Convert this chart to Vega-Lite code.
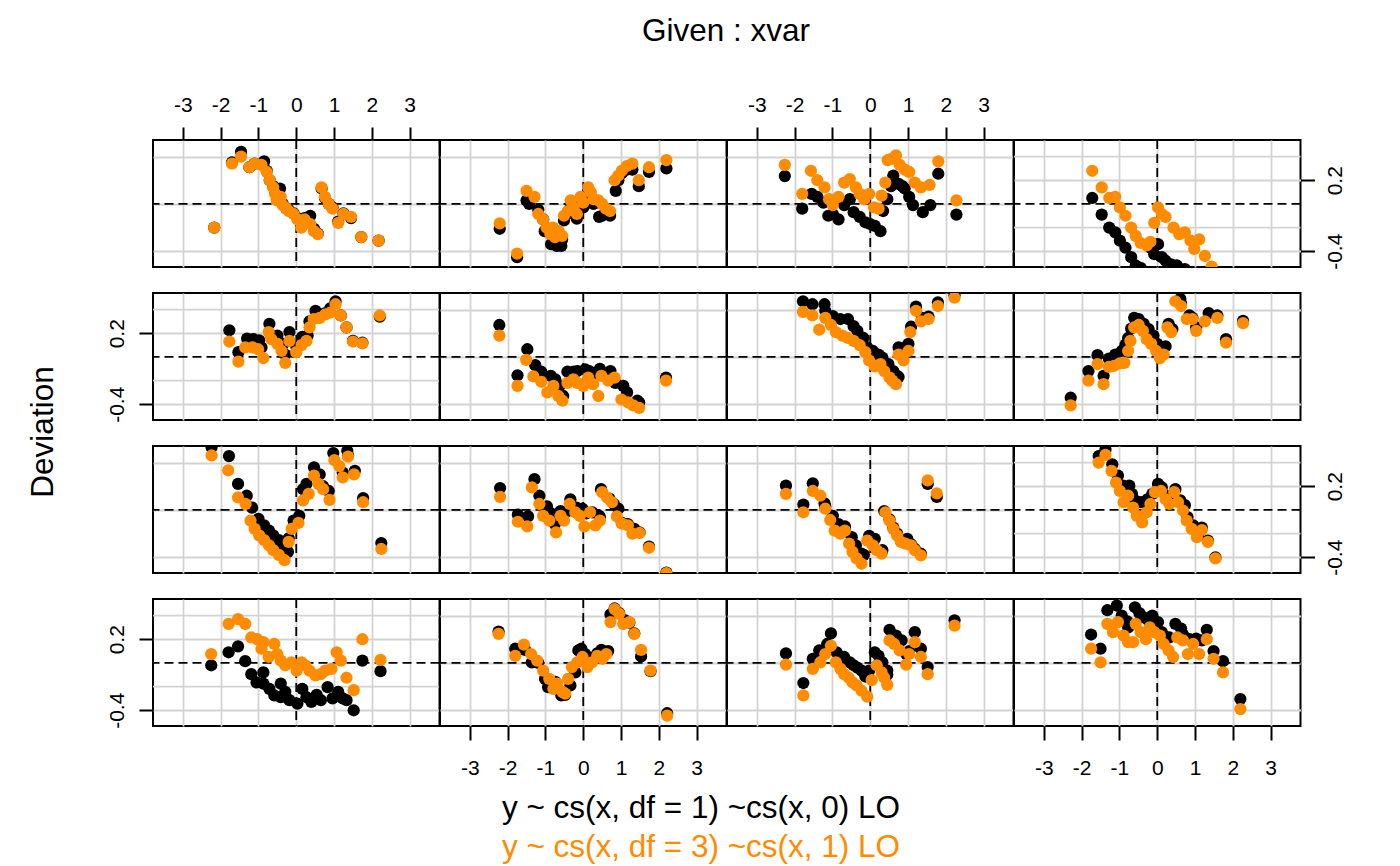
{
"$schema": "https://vega.github.io/schema/vega-lite/v6.json",
"padding": {"left": 27, "top": 15, "right": 5, "bottom": 5},
"datasets": {
"o11": [{"x":-2.17,"y":-0.2},{"x":-1.7,"y":0.34},{"x":-1.46,"y":0.4},{"x":-1.24,"y":0.31},{"x":-1.1,"y":0.34},{"x":-0.92,"y":0.33},{"x":-0.78,"y":0.27},{"x":-0.7,"y":0.2},{"x":-0.61,"y":0.14},{"x":-0.56,"y":0.085},{"x":-0.51,"y":0.03},{"x":-0.41,"y":0.06},{"x":-0.36,"y":-0.01},{"x":-0.26,"y":-0.04},{"x":-0.2,"y":-0.06},{"x":-0.07,"y":-0.085},{"x":0.03,"y":-0.13},{"x":0.13,"y":-0.2},{"x":0.22,"y":-0.13},{"x":0.37,"y":-0.17},{"x":0.47,"y":-0.23},{"x":0.57,"y":-0.255},{"x":0.67,"y":0.14},{"x":0.76,"y":0.06},{"x":0.86,"y":0.0},{"x":0.96,"y":-0.04},{"x":1.11,"y":-0.16},{"x":1.25,"y":-0.085},{"x":1.45,"y":-0.11},{"x":1.72,"y":-0.28},{"x":2.18,"y":-0.31}],
"b11": [{"x":-2.17,"y":-0.2},{"x":-1.7,"y":0.35},{"x":-1.46,"y":0.44},{"x":-1.24,"y":0.31},{"x":-1.1,"y":0.34},{"x":-0.85,"y":0.36},{"x":-0.78,"y":0.28},{"x":-0.7,"y":0.2},{"x":-0.61,"y":0.15},{"x":-0.56,"y":0.1},{"x":-0.51,"y":0.04},{"x":-0.43,"y":0.13},{"x":-0.36,"y":0.0},{"x":-0.26,"y":-0.04},{"x":-0.2,"y":-0.05},{"x":-0.07,"y":-0.08},{"x":0.03,"y":-0.12},{"x":0.13,"y":-0.19},{"x":0.22,"y":-0.12},{"x":0.37,"y":-0.1},{"x":0.47,"y":-0.21},{"x":0.57,"y":-0.25},{"x":0.67,"y":0.13},{"x":0.76,"y":0.05},{"x":0.86,"y":0.0},{"x":0.96,"y":-0.03},{"x":1.11,"y":-0.15},{"x":1.25,"y":-0.08},{"x":1.45,"y":-0.12},{"x":1.72,"y":-0.28},{"x":2.18,"y":-0.31}],
"o12": [{"x":-2.21,"y":-0.165},{"x":-1.75,"y":-0.42},{"x":-1.5,"y":0.11},{"x":-1.29,"y":0.06},{"x":-1.19,"y":-0.085},{"x":-1.06,"y":-0.13},{"x":-0.97,"y":-0.2},{"x":-0.87,"y":-0.255},{"x":-0.8,"y":-0.2},{"x":-0.75,"y":-0.28},{"x":-0.65,"y":-0.23},{"x":-0.56,"y":-0.27},{"x":-0.51,"y":-0.1},{"x":-0.41,"y":-0.06},{"x":-0.33,"y":0.03},{"x":-0.26,"y":-0.03},{"x":-0.17,"y":-0.085},{"x":-0.07,"y":0.06},{"x":0.0,"y":0.01},{"x":0.13,"y":0.14},{"x":0.2,"y":0.1},{"x":0.27,"y":0.04},{"x":0.4,"y":0.03},{"x":0.5,"y":0.0},{"x":0.6,"y":-0.04},{"x":0.71,"y":-0.06},{"x":0.83,"y":0.2},{"x":0.93,"y":0.24},{"x":1.02,"y":0.28},{"x":1.15,"y":0.32},{"x":1.3,"y":0.34},{"x":1.47,"y":0.2},{"x":1.74,"y":0.31},{"x":2.2,"y":0.37}],
"b12": [{"x":-2.21,"y":-0.21},{"x":-1.75,"y":-0.45},{"x":-1.5,"y":0.03},{"x":-1.43,"y":0.0},{"x":-1.19,"y":-0.05},{"x":-1.06,"y":-0.13},{"x":-1.02,"y":-0.23},{"x":-0.85,"y":-0.34},{"x":-0.8,"y":-0.22},{"x":-0.7,"y":-0.355},{"x":-0.58,"y":-0.355},{"x":-0.56,"y":-0.3},{"x":-0.51,"y":-0.14},{"x":-0.41,"y":-0.08},{"x":-0.33,"y":0.0},{"x":-0.26,"y":-0.08},{"x":-0.17,"y":-0.125},{"x":-0.07,"y":0.03},{"x":0.0,"y":-0.03},{"x":0.13,"y":0.12},{"x":0.2,"y":0.06},{"x":0.27,"y":0.0},{"x":0.42,"y":-0.11},{"x":0.5,"y":-0.1},{"x":0.6,"y":-0.08},{"x":0.71,"y":-0.1},{"x":0.86,"y":0.11},{"x":0.93,"y":0.2},{"x":1.02,"y":0.26},{"x":1.15,"y":0.29},{"x":1.3,"y":0.29},{"x":1.47,"y":0.15},{"x":1.74,"y":0.27},{"x":2.2,"y":0.3}],
"o13": [{"x":-2.26,"y":0.33},{"x":-1.8,"y":0.085},{"x":-1.57,"y":0.28},{"x":-1.4,"y":0.2},{"x":-1.21,"y":0.14},{"x":-1.09,"y":0.04},{"x":-0.99,"y":-0.01},{"x":-0.84,"y":0.06},{"x":-0.69,"y":0.18},{"x":-0.54,"y":0.21},{"x":-0.38,"y":0.14},{"x":-0.28,"y":0.085},{"x":-0.16,"y":0.04},{"x":-0.03,"y":0.085},{"x":0.1,"y":-0.03},{"x":0.22,"y":-0.04},{"x":0.3,"y":0.07},{"x":0.4,"y":0.18},{"x":0.46,"y":0.37},{"x":0.56,"y":0.38},{"x":0.68,"y":0.41},{"x":0.78,"y":0.33},{"x":0.91,"y":0.29},{"x":1.03,"y":0.27},{"x":1.18,"y":0.18},{"x":1.34,"y":0.14},{"x":1.57,"y":0.16},{"x":1.8,"y":0.36},{"x":2.28,"y":0.03}],
"b13": [{"x":-2.26,"y":0.235},{"x":-1.8,"y":-0.04},{"x":-1.55,"y":0.085},{"x":-1.4,"y":0.06},{"x":-1.24,"y":0.01},{"x":-1.11,"y":-0.1},{"x":-0.99,"y":-0.085},{"x":-0.84,"y":-0.13},{"x":-0.69,"y":-0.01},{"x":-0.54,"y":0.04},{"x":-0.44,"y":-0.07},{"x":-0.28,"y":-0.11},{"x":-0.13,"y":-0.155},{"x":0.0,"y":-0.17},{"x":0.12,"y":-0.185},{"x":0.27,"y":-0.23},{"x":0.34,"y":-0.06},{"x":0.45,"y":0.04},{"x":0.55,"y":0.15},{"x":0.61,"y":0.24},{"x":0.75,"y":0.17},{"x":0.85,"y":0.15},{"x":0.91,"y":0.13},{"x":1.03,"y":0.06},{"x":1.13,"y":-0.01},{"x":1.39,"y":-0.07},{"x":1.59,"y":-0.01},{"x":1.8,"y":0.255},{"x":2.28,"y":-0.09}],
"o14": [{"x":-1.72,"y":0.28},{"x":-1.47,"y":0.14},{"x":-1.27,"y":0.05},{"x":-1.11,"y":0.06},{"x":-0.99,"y":-0.03},{"x":-0.84,"y":-0.1},{"x":-0.69,"y":-0.2},{"x":-0.57,"y":-0.27},{"x":-0.44,"y":-0.33},{"x":-0.28,"y":-0.35},{"x":-0.18,"y":-0.32},{"x":-0.08,"y":-0.16},{"x":0.02,"y":-0.03},{"x":0.12,"y":-0.085},{"x":0.22,"y":-0.11},{"x":0.43,"y":-0.2},{"x":0.58,"y":-0.255},{"x":0.73,"y":-0.24},{"x":0.88,"y":-0.31},{"x":0.98,"y":-0.38},{"x":1.11,"y":-0.3},{"x":1.26,"y":-0.44},{"x":1.44,"y":-0.53}],
"b14": [{"x":-1.72,"y":0.05},{"x":-1.47,"y":-0.09},{"x":-1.27,"y":-0.2},{"x":-1.11,"y":-0.24},{"x":-0.99,"y":-0.31},{"x":-0.84,"y":-0.37},{"x":-0.69,"y":-0.45},{"x":-0.57,"y":-0.52},{"x":-0.44,"y":-0.54},{"x":-0.28,"y":-0.58},{"x":-0.18,"y":-0.37},{"x":-0.08,"y":-0.425},{"x":0.02,"y":-0.34},{"x":0.12,"y":-0.45},{"x":0.22,"y":-0.48},{"x":0.37,"y":-0.51},{"x":0.52,"y":-0.52},{"x":0.73,"y":-0.55},{"x":0.88,"y":-0.6},{"x":0.98,"y":-0.62},{"x":1.11,"y":-0.6},{"x":1.26,"y":-0.7},{"x":1.44,"y":-0.8}],
"o21": [{"x":-1.77,"y":0.13},{"x":-1.53,"y":-0.04},{"x":-1.35,"y":0.08},{"x":-1.16,"y":0.08},{"x":-1.01,"y":0.065},{"x":-0.87,"y":-0.01},{"x":-0.73,"y":0.21},{"x":-0.66,"y":0.15},{"x":-0.5,"y":0.11},{"x":-0.39,"y":0.05},{"x":-0.29,"y":-0.05},{"x":-0.18,"y":0.135},{"x":0.0,"y":0.04},{"x":0.14,"y":0.1},{"x":0.27,"y":0.135},{"x":0.35,"y":0.25},{"x":0.46,"y":0.32},{"x":0.62,"y":0.33},{"x":0.77,"y":0.36},{"x":0.9,"y":0.375},{"x":1.04,"y":0.445},{"x":1.18,"y":0.35},{"x":1.33,"y":0.25},{"x":1.5,"y":0.13},{"x":1.75,"y":0.115},{"x":2.21,"y":0.35}],
"b21": [{"x":-1.77,"y":0.225},{"x":-1.53,"y":0.04},{"x":-1.3,"y":0.155},{"x":-1.14,"y":0.15},{"x":-0.98,"y":0.14},{"x":-0.92,"y":0.08},{"x":-0.71,"y":0.28},{"x":-0.66,"y":0.18},{"x":-0.5,"y":0.18},{"x":-0.34,"y":0.11},{"x":-0.29,"y":0.02},{"x":-0.18,"y":0.21},{"x":0.0,"y":0.09},{"x":0.16,"y":0.17},{"x":0.3,"y":0.18},{"x":0.35,"y":0.3},{"x":0.51,"y":0.39},{"x":0.62,"y":0.36},{"x":0.77,"y":0.37},{"x":0.9,"y":0.41},{"x":1.04,"y":0.47},{"x":1.18,"y":0.35},{"x":1.33,"y":0.25},{"x":1.5,"y":0.135},{"x":1.75,"y":0.12},{"x":2.21,"y":0.34}],
"o22": [{"x":-2.22,"y":0.18},{"x":-1.74,"y":-0.245},{"x":-1.51,"y":-0.025},{"x":-1.32,"y":-0.165},{"x":-1.11,"y":-0.21},{"x":-0.95,"y":-0.3},{"x":-0.79,"y":-0.245},{"x":-0.66,"y":-0.33},{"x":-0.55,"y":-0.37},{"x":-0.42,"y":-0.22},{"x":-0.26,"y":-0.19},{"x":-0.16,"y":-0.22},{"x":0.0,"y":-0.245},{"x":0.13,"y":-0.175},{"x":0.26,"y":-0.23},{"x":0.4,"y":-0.33},{"x":0.48,"y":-0.16},{"x":0.66,"y":-0.2},{"x":0.83,"y":-0.175},{"x":1.01,"y":-0.36},{"x":1.19,"y":-0.385},{"x":1.32,"y":-0.41},{"x":1.48,"y":-0.43},{"x":2.19,"y":-0.2}],
"b22": [{"x":-2.22,"y":0.27},{"x":-1.74,"y":-0.155},{"x":-1.48,"y":0.065},{"x":-1.27,"y":-0.07},{"x":-1.11,"y":-0.125},{"x":-0.86,"y":-0.16},{"x":-0.74,"y":-0.19},{"x":-0.63,"y":-0.245},{"x":-0.53,"y":-0.33},{"x":-0.42,"y":-0.125},{"x":-0.26,"y":-0.125},{"x":-0.16,"y":-0.12},{"x":0.05,"y":-0.105},{"x":0.16,"y":-0.12},{"x":0.26,"y":-0.145},{"x":0.44,"y":-0.1},{"x":0.53,"y":-0.145},{"x":0.72,"y":-0.12},{"x":0.85,"y":-0.22},{"x":1.06,"y":-0.245},{"x":1.16,"y":-0.3},{"x":1.43,"y":-0.37},{"x":1.48,"y":-0.385},{"x":2.19,"y":-0.175}],
"o23": [{"x":-1.78,"y":0.38},{"x":-1.53,"y":0.35},{"x":-1.35,"y":0.23},{"x":-1.19,"y":0.33},{"x":-1.04,"y":0.27},{"x":-0.91,"y":0.21},{"x":-0.74,"y":0.18},{"x":-0.59,"y":0.16},{"x":-0.44,"y":0.135},{"x":-0.28,"y":0.1},{"x":-0.13,"y":0.04},{"x":-0.03,"y":-0.03},{"x":0.12,"y":-0.08},{"x":0.27,"y":-0.06},{"x":0.37,"y":-0.12},{"x":0.51,"y":-0.175},{"x":0.58,"y":-0.2},{"x":0.68,"y":-0.23},{"x":0.75,"y":0.02},{"x":0.88,"y":-0.03},{"x":1.01,"y":0.05},{"x":1.06,"y":0.21},{"x":1.21,"y":0.39},{"x":1.34,"y":0.3},{"x":1.54,"y":0.32},{"x":1.79,"y":0.43},{"x":2.23,"y":0.5}],
"b23": [{"x":-1.78,"y":0.47},{"x":-1.53,"y":0.445},{"x":-1.21,"y":0.445},{"x":-1.19,"y":0.39},{"x":-0.99,"y":0.345},{"x":-0.79,"y":0.32},{"x":-0.59,"y":0.32},{"x":-0.44,"y":0.26},{"x":-0.34,"y":0.22},{"x":-0.18,"y":0.16},{"x":-0.08,"y":0.08},{"x":0.07,"y":0.05},{"x":0.22,"y":0.02},{"x":0.32,"y":-0.005},{"x":0.48,"y":-0.06},{"x":0.61,"y":-0.12},{"x":0.71,"y":-0.16},{"x":0.75,"y":-0.17},{"x":0.75,"y":0.08},{"x":0.93,"y":0.08},{"x":1.01,"y":0.11},{"x":1.08,"y":0.255},{"x":1.21,"y":0.425},{"x":1.37,"y":0.33},{"x":1.54,"y":0.34},{"x":1.79,"y":0.46},{"x":2.23,"y":0.52}],
"o24": [{"x":-2.29,"y":-0.41},{"x":-1.82,"y":-0.2},{"x":-1.58,"y":-0.06},{"x":-1.42,"y":-0.23},{"x":-1.28,"y":-0.085},{"x":-1.14,"y":-0.075},{"x":-0.99,"y":-0.055},{"x":-0.87,"y":-0.05},{"x":-0.77,"y":0.05},{"x":-0.71,"y":0.135},{"x":-0.61,"y":0.25},{"x":-0.49,"y":0.27},{"x":-0.38,"y":0.22},{"x":-0.28,"y":0.15},{"x":-0.16,"y":0.11},{"x":-0.03,"y":0.05},{"x":0.07,"y":-0.01},{"x":0.17,"y":0.02},{"x":0.27,"y":0.25},{"x":0.37,"y":0.21},{"x":0.48,"y":0.47},{"x":0.63,"y":0.43},{"x":0.78,"y":0.32},{"x":0.93,"y":0.32},{"x":1.03,"y":0.22},{"x":1.26,"y":0.3},{"x":1.59,"y":0.33},{"x":1.82,"y":0.12},{"x":2.27,"y":0.285}],
"b24": [{"x":-2.29,"y":-0.345},{"x":-1.82,"y":-0.12},{"x":-1.58,"y":0.015},{"x":-1.42,"y":-0.16},{"x":-1.28,"y":-0.015},{"x":-1.11,"y":0.02},{"x":-0.94,"y":0.05},{"x":-0.84,"y":0.105},{"x":-0.77,"y":0.16},{"x":-0.69,"y":0.24},{"x":-0.61,"y":0.33},{"x":-0.49,"y":0.32},{"x":-0.36,"y":0.28},{"x":-0.23,"y":0.235},{"x":-0.1,"y":0.18},{"x":0.0,"y":0.11},{"x":0.14,"y":0.08},{"x":0.22,"y":0.09},{"x":0.3,"y":0.28},{"x":0.4,"y":0.235},{"x":0.61,"y":0.49},{"x":0.63,"y":0.45},{"x":0.85,"y":0.35},{"x":0.93,"y":0.33},{"x":1.03,"y":0.25},{"x":1.36,"y":0.37},{"x":1.59,"y":0.35},{"x":1.82,"y":0.15},{"x":2.27,"y":0.305}],
"o31": [{"x":-2.24,"y":0.46},{"x":-1.8,"y":0.335},{"x":-1.54,"y":0.105},{"x":-1.34,"y":0.05},{"x":-1.21,"y":-0.09},{"x":-1.1,"y":-0.16},{"x":-0.98,"y":-0.215},{"x":-0.85,"y":-0.255},{"x":-0.72,"y":-0.3},{"x":-0.61,"y":-0.34},{"x":-0.46,"y":-0.38},{"x":-0.31,"y":-0.425},{"x":-0.2,"y":-0.27},{"x":-0.12,"y":-0.16},{"x":0.06,"y":-0.11},{"x":0.18,"y":0.08},{"x":0.33,"y":0.135},{"x":0.47,"y":0.29},{"x":0.59,"y":0.22},{"x":0.71,"y":0.175},{"x":0.88,"y":0.085},{"x":1.01,"y":0.42},{"x":1.14,"y":0.37},{"x":1.23,"y":0.275},{"x":1.37,"y":0.45},{"x":1.53,"y":0.3},{"x":1.77,"y":0.065},{"x":2.25,"y":-0.33}],
"b31": [{"x":-2.24,"y":0.53},{"x":-1.78,"y":0.455},{"x":-1.54,"y":0.22},{"x":-1.31,"y":0.12},{"x":-1.17,"y":0.02},{"x":-1.0,"y":-0.075},{"x":-0.85,"y":-0.13},{"x":-0.72,"y":-0.175},{"x":-0.61,"y":-0.215},{"x":-0.46,"y":-0.255},{"x":-0.36,"y":-0.31},{"x":-0.22,"y":-0.355},{"x":-0.2,"y":-0.24},{"x":-0.07,"y":-0.09},{"x":0.08,"y":-0.05},{"x":0.18,"y":0.175},{"x":0.27,"y":0.22},{"x":0.47,"y":0.36},{"x":0.62,"y":0.3},{"x":0.71,"y":0.2},{"x":0.86,"y":0.16},{"x":0.98,"y":0.48},{"x":1.35,"y":0.5},{"x":1.23,"y":0.315},{"x":1.37,"y":0.46},{"x":1.55,"y":0.33},{"x":1.77,"y":0.1},{"x":2.25,"y":-0.28}],
"o32": [{"x":-2.2,"y":0.11},{"x":-1.73,"y":-0.1},{"x":-1.48,"y":-0.14},{"x":-1.36,"y":0.19},{"x":-1.16,"y":0.05},{"x":-1.06,"y":-0.05},{"x":-0.9,"y":-0.09},{"x":-0.72,"y":-0.19},{"x":-0.6,"y":-0.05},{"x":-0.51,"y":-0.09},{"x":-0.36,"y":0.05},{"x":-0.21,"y":-0.02},{"x":-0.09,"y":-0.05},{"x":0.03,"y":-0.14},{"x":0.18,"y":-0.02},{"x":0.32,"y":-0.13},{"x":0.44,"y":-0.09},{"x":0.5,"y":0.15},{"x":0.63,"y":0.105},{"x":0.76,"y":0.065},{"x":0.89,"y":-0.055},{"x":1.02,"y":-0.115},{"x":1.18,"y":-0.13},{"x":1.3,"y":-0.2},{"x":1.49,"y":-0.195},{"x":1.74,"y":-0.32},{"x":2.2,"y":-0.535}],
"b32": [{"x":-2.2,"y":0.185},{"x":-1.73,"y":-0.04},{"x":-1.46,"y":-0.055},{"x":-1.29,"y":0.26},{"x":-1.16,"y":0.12},{"x":-0.96,"y":0.03},{"x":-0.85,"y":-0.03},{"x":-0.75,"y":-0.12},{"x":-0.6,"y":-0.01},{"x":-0.46,"y":-0.02},{"x":-0.34,"y":0.09},{"x":-0.18,"y":0.02},{"x":-0.02,"y":0.01},{"x":0.08,"y":-0.03},{"x":0.24,"y":-0.02},{"x":0.42,"y":-0.05},{"x":0.44,"y":-0.06},{"x":0.47,"y":0.175},{"x":0.69,"y":0.095},{"x":0.81,"y":0.05},{"x":0.93,"y":0.01},{"x":1.02,"y":-0.11},{"x":1.18,"y":-0.12},{"x":1.35,"y":-0.16},{"x":1.49,"y":-0.19},{"x":1.74,"y":-0.31},{"x":2.2,"y":-0.53}],
"o33": [{"x":-2.23,"y":0.135},{"x":-1.77,"y":-0.02},{"x":-1.52,"y":0.16},{"x":-1.32,"y":0.12},{"x":-1.19,"y":0.01},{"x":-1.06,"y":-0.085},{"x":-0.94,"y":-0.175},{"x":-0.79,"y":-0.2},{"x":-0.67,"y":-0.175},{"x":-0.56,"y":-0.285},{"x":-0.47,"y":-0.355},{"x":-0.36,"y":-0.41},{"x":-0.23,"y":-0.455},{"x":-0.08,"y":-0.26},{"x":0.07,"y":-0.3},{"x":0.17,"y":-0.34},{"x":0.3,"y":-0.37},{"x":0.4,"y":-0.02},{"x":0.51,"y":-0.09},{"x":0.61,"y":-0.16},{"x":0.71,"y":-0.215},{"x":0.81,"y":-0.27},{"x":0.93,"y":-0.285},{"x":1.08,"y":-0.3},{"x":1.18,"y":-0.34},{"x":1.34,"y":-0.385},{"x":1.52,"y":0.25},{"x":1.76,"y":0.14}],
"b33": [{"x":-2.23,"y":0.205},{"x":-1.77,"y":0.045},{"x":-1.52,"y":0.225},{"x":-1.21,"y":0.055},{"x":-1.19,"y":0.03},{"x":-0.99,"y":-0.05},{"x":-0.84,"y":-0.12},{"x":-0.67,"y":-0.14},{"x":-0.67,"y":-0.16},{"x":-0.49,"y":-0.23},{"x":-0.38,"y":-0.3},{"x":-0.23,"y":-0.37},{"x":-0.17,"y":-0.38},{"x":-0.03,"y":-0.22},{"x":0.12,"y":-0.245},{"x":0.32,"y":-0.34},{"x":0.3,"y":-0.35},{"x":0.37,"y":-0.01},{"x":0.51,"y":-0.08},{"x":0.61,"y":-0.15},{"x":0.71,"y":-0.2},{"x":0.81,"y":-0.26},{"x":0.98,"y":-0.245},{"x":1.08,"y":-0.29},{"x":1.18,"y":-0.33},{"x":1.34,"y":-0.37},{"x":1.52,"y":0.22},{"x":1.76,"y":0.11}],
"o34": [{"x":-1.55,"y":0.4},{"x":-1.37,"y":0.465},{"x":-1.21,"y":0.33},{"x":-1.09,"y":0.23},{"x":-0.99,"y":0.16},{"x":-0.89,"y":0.065},{"x":-0.77,"y":0.12},{"x":-0.64,"y":0.02},{"x":-0.54,"y":-0.05},{"x":-0.4,"y":-0.105},{"x":-0.28,"y":-0.02},{"x":-0.18,"y":0.05},{"x":-0.06,"y":0.15},{"x":0.1,"y":0.16},{"x":0.22,"y":0.09},{"x":0.32,"y":0.05},{"x":0.45,"y":0.15},{"x":0.55,"y":0.065},{"x":0.68,"y":-0.005},{"x":0.78,"y":-0.09},{"x":0.91,"y":-0.16},{"x":1.05,"y":-0.23},{"x":1.18,"y":-0.17},{"x":1.34,"y":-0.27},{"x":1.54,"y":-0.41}],
"b34": [{"x":-1.55,"y":0.455},{"x":-1.37,"y":0.51},{"x":-1.19,"y":0.385},{"x":-1.04,"y":0.29},{"x":-0.91,"y":0.205},{"x":-0.74,"y":0.205},{"x":-0.67,"y":0.135},{"x":-0.59,"y":0.08},{"x":-0.44,"y":0.065},{"x":-0.34,"y":0.065},{"x":-0.26,"y":0.09},{"x":-0.13,"y":0.135},{"x":0.02,"y":0.22},{"x":0.12,"y":0.19},{"x":0.22,"y":0.12},{"x":0.34,"y":0.105},{"x":0.48,"y":0.175},{"x":0.61,"y":0.08},{"x":0.73,"y":0.04},{"x":0.8,"y":-0.06},{"x":0.95,"y":-0.13},{"x":1.08,"y":-0.21},{"x":1.18,"y":-0.15},{"x":1.34,"y":-0.26},{"x":1.54,"y":-0.4}],
"o41": [{"x":-2.25,"y":0.075},{"x":-1.79,"y":0.33},{"x":-1.54,"y":0.37},{"x":-1.35,"y":0.33},{"x":-1.19,"y":0.215},{"x":-1.03,"y":0.2},{"x":-0.92,"y":0.12},{"x":-0.87,"y":0.175},{"x":-0.73,"y":0.05},{"x":-0.58,"y":0.16},{"x":-0.5,"y":0.075},{"x":-0.41,"y":0.02},{"x":-0.29,"y":-0.02},{"x":-0.13,"y":0.005},{"x":0.01,"y":-0.065},{"x":0.14,"y":0.005},{"x":0.24,"y":-0.02},{"x":0.35,"y":-0.065},{"x":0.51,"y":-0.105},{"x":0.65,"y":-0.095},{"x":0.77,"y":-0.065},{"x":0.93,"y":-0.05},{"x":1.07,"y":0.09},{"x":1.18,"y":0.02},{"x":1.33,"y":-0.125},{"x":1.52,"y":-0.23},{"x":1.75,"y":0.2},{"x":2.23,"y":0.025}],
"b41": [{"x":-2.25,"y":-0.02},{"x":-1.79,"y":0.09},{"x":-1.54,"y":0.14},{"x":-1.35,"y":0.015},{"x":-1.19,"y":-0.095},{"x":-1.05,"y":-0.165},{"x":-0.87,"y":-0.08},{"x":-0.87,"y":-0.175},{"x":-0.71,"y":-0.22},{"x":-0.58,"y":-0.275},{"x":-0.41,"y":-0.175},{"x":-0.41,"y":-0.29},{"x":-0.29,"y":-0.245},{"x":-0.18,"y":-0.315},{"x":0.03,"y":-0.345},{"x":0.16,"y":-0.22},{"x":0.27,"y":-0.29},{"x":0.4,"y":-0.33},{"x":0.54,"y":-0.27},{"x":0.65,"y":-0.315},{"x":0.83,"y":-0.205},{"x":0.96,"y":-0.3},{"x":1.11,"y":-0.245},{"x":1.23,"y":-0.3},{"x":1.33,"y":-0.315},{"x":1.52,"y":-0.4},{"x":1.75,"y":0.02},{"x":2.23,"y":-0.07}],
"o42": [{"x":-2.24,"y":0.245},{"x":-1.8,"y":0.06},{"x":-1.57,"y":0.155},{"x":-1.38,"y":0.075},{"x":-1.22,"y":0.02},{"x":-1.06,"y":-0.065},{"x":-0.9,"y":-0.135},{"x":-0.79,"y":-0.22},{"x":-0.69,"y":-0.175},{"x":-0.55,"y":-0.245},{"x":-0.48,"y":-0.26},{"x":-0.4,"y":-0.135},{"x":-0.3,"y":-0.035},{"x":-0.16,"y":0.005},{"x":-0.02,"y":0.05},{"x":0.11,"y":-0.035},{"x":0.23,"y":0.005},{"x":0.37,"y":0.06},{"x":0.51,"y":0.035},{"x":0.61,"y":0.075},{"x":0.72,"y":0.345},{"x":0.83,"y":0.455},{"x":0.95,"y":0.415},{"x":1.06,"y":0.33},{"x":1.22,"y":0.345},{"x":1.35,"y":0.245},{"x":1.53,"y":0.11},{"x":1.78,"y":-0.065},{"x":2.22,"y":-0.445}],
"b42": [{"x":-2.24,"y":0.265},{"x":-1.8,"y":0.12},{"x":-1.54,"y":0.11},{"x":-1.36,"y":0.005},{"x":-1.19,"y":0.0},{"x":-1.01,"y":-0.135},{"x":-0.93,"y":-0.205},{"x":-0.74,"y":-0.16},{"x":-0.69,"y":-0.2},{"x":-0.58,"y":-0.275},{"x":-0.48,"y":-0.27},{"x":-0.34,"y":-0.19},{"x":-0.21,"y":-0.08},{"x":-0.13,"y":0.105},{"x":-0.05,"y":0.12},{"x":0.05,"y":0.075},{"x":0.23,"y":0.04},{"x":0.37,"y":0.08},{"x":0.48,"y":0.11},{"x":0.66,"y":0.1},{"x":0.72,"y":0.41},{"x":0.83,"y":0.46},{"x":0.95,"y":0.42},{"x":1.11,"y":0.36},{"x":1.22,"y":0.34},{"x":1.35,"y":0.25},{"x":1.53,"y":0.055},{"x":1.78,"y":-0.07},{"x":2.22,"y":-0.425}],
"o43": [{"x":-2.23,"y":-0.015},{"x":-1.77,"y":-0.275},{"x":-1.52,"y":-0.05},{"x":-1.32,"y":0.005},{"x":-1.19,"y":0.075},{"x":-1.04,"y":0.145},{"x":-0.91,"y":0.005},{"x":-0.79,"y":-0.05},{"x":-0.69,"y":-0.095},{"x":-0.57,"y":-0.125},{"x":-0.47,"y":-0.165},{"x":-0.36,"y":-0.19},{"x":-0.23,"y":-0.235},{"x":-0.08,"y":-0.285},{"x":0.04,"y":-0.145},{"x":0.17,"y":-0.02},{"x":0.3,"y":-0.08},{"x":0.37,"y":-0.125},{"x":0.45,"y":-0.185},{"x":0.51,"y":0.19},{"x":0.63,"y":0.16},{"x":0.78,"y":0.105},{"x":0.95,"y":-0.015},{"x":1.03,"y":0.075},{"x":1.18,"y":0.175},{"x":1.34,"y":0.05},{"x":1.52,"y":-0.095},{"x":2.23,"y":0.315}],
"b43": [{"x":-2.23,"y":0.08},{"x":-1.77,"y":-0.17},{"x":-1.52,"y":0.035},{"x":-1.35,"y":0.105},{"x":-1.14,"y":0.16},{"x":-1.04,"y":0.25},{"x":-0.89,"y":0.09},{"x":-0.69,"y":0.05},{"x":-0.54,"y":0.005},{"x":-0.44,"y":-0.02},{"x":-0.34,"y":-0.04},{"x":-0.23,"y":-0.065},{"x":-0.13,"y":-0.115},{"x":-0.03,"y":-0.065},{"x":0.12,"y":0.09},{"x":0.22,"y":0.06},{"x":0.32,"y":0.005},{"x":0.45,"y":-0.065},{"x":0.45,"y":-0.1},{"x":0.51,"y":0.28},{"x":0.68,"y":0.23},{"x":0.83,"y":0.19},{"x":0.95,"y":0.075},{"x":1.03,"y":0.1},{"x":1.18,"y":0.26},{"x":1.34,"y":0.12},{"x":1.52,"y":-0.035},{"x":2.23,"y":0.36}],
"o44": [{"x":-1.75,"y":0.12},{"x":-1.5,"y":0.005},{"x":-1.32,"y":0.33},{"x":-1.17,"y":0.26},{"x":-1.04,"y":0.345},{"x":-0.89,"y":0.23},{"x":-0.77,"y":0.175},{"x":-0.64,"y":0.175},{"x":-0.57,"y":0.33},{"x":-0.44,"y":0.26},{"x":-0.3,"y":0.2},{"x":-0.2,"y":0.3},{"x":-0.08,"y":0.26},{"x":0.07,"y":0.23},{"x":0.17,"y":0.16},{"x":0.3,"y":0.105},{"x":0.42,"y":0.05},{"x":0.53,"y":0.215},{"x":0.68,"y":0.19},{"x":0.81,"y":0.075},{"x":0.95,"y":0.16},{"x":1.11,"y":0.075},{"x":1.31,"y":0.2},{"x":1.49,"y":0.035},{"x":1.74,"y":-0.08},{"x":2.2,"y":-0.39}],
"b44": [{"x":-1.75,"y":0.24},{"x":-1.5,"y":0.12},{"x":-1.32,"y":0.445},{"x":-1.07,"y":0.485},{"x":-0.94,"y":0.4},{"x":-0.79,"y":0.35},{"x":-0.77,"y":0.3},{"x":-0.59,"y":0.47},{"x":-0.47,"y":0.42},{"x":-0.36,"y":0.385},{"x":-0.23,"y":0.36},{"x":-0.13,"y":0.4},{"x":0.02,"y":0.345},{"x":0.12,"y":0.26},{"x":0.22,"y":0.22},{"x":0.32,"y":0.215},{"x":0.48,"y":0.33},{"x":0.63,"y":0.29},{"x":0.68,"y":0.24},{"x":0.85,"y":0.2},{"x":1.03,"y":0.205},{"x":1.18,"y":0.19},{"x":1.31,"y":0.28},{"x":1.49,"y":0.1},{"x":1.74,"y":0.015},{"x":2.2,"y":-0.305}]
},
"title": {"text": "Given : xvar", "orient": "top", "anchor": "middle", "frame": "bounds", "offset": 21, "dx": 39, "baseline": "alphabetic", "fontSize": 31.5, "fontWeight": "normal", "font": "Liberation Sans", "color": "black"},
"vconcat": [{
"title": {"text": "y ~ cs(x, df = 1) ~cs(x, 0) LO", "subtitle": "y ~ cs(x, df = 3) ~cs(x, 1) LO", "orient": "bottom", "anchor": "middle", "frame": "bounds", "offset": 39, "baseline": "alphabetic", "dx": 14, "fontSize": 31.5, "fontWeight": "normal", "font": "Liberation Sans", "color": "black", "subtitleFontSize": 31.5, "subtitleFont": "Liberation Sans", "subtitleColor": "#FF8C00", "subtitleFontWeight": "normal", "subtitlePadding": 7},
"vconcat": [{
"title": {"text": "Deviation", "orient": "left", "anchor": "middle", "frame": "bounds", "offset": 21, "dx": 4, "baseline": "alphabetic", "fontSize": 31.5, "fontWeight": "normal", "font": "Liberation Sans", "color": "black"},
"columns": 4,
"spacing": {"row": 26, "column": 0},
"bounds": "flush",
"concat": [
  {"width": 286.5, "height": 127, "layer": [
   {"data": {"values": [{}]}, "mark": {"type": "rule", "color": "black", "strokeWidth": 1.8, "strokeDash": [9, 5]}, "encoding": {"x": {"datum": 0, "type": "quantitative"}}},
   {"data": {"values": [{}]}, "mark": {"type": "rule", "color": "black", "strokeWidth": 1.8, "strokeDash": [9, 5]}, "encoding": {"y": {"datum": 0, "type": "quantitative"}}},
   {"data": {"name": "b11"}, "mark": {"type": "circle", "color": "black", "size": 150, "opacity": 1, "clip": true}, "encoding": {
     "x": {"field": "x", "type": "quantitative", "scale": {"domain": [-3.79, 3.79], "nice": false, "zero": false}, "axis": {"orient": "top", "values": [-3, -2, -1, 0, 1, 2, 3], "grid": true, "ticks": true, "tickSize": 13, "labelPadding": 16, "labelBaseline": "alphabetic", "labelAlign": "center", "labelOverlap": false, "domain": false, "title": null, "labelExpr": "datum.value < 0 ? '-' + abs(datum.value) : '' + datum.value"}},
     "y": {"field": "y", "type": "quantitative", "scale": {"domain": [-0.533, 0.54], "nice": false, "zero": false}, "axis": {"orient": "left", "values": [-0.4, -0.2, 0, 0.2, 0.4], "grid": true, "labels": false, "ticks": false, "domain": false, "title": null}}}},
   {"data": {"name": "o11"}, "mark": {"type": "circle", "color": "#FF8C00", "size": 150, "opacity": 1, "clip": true}, "encoding": {"x": {"field": "x", "type": "quantitative"}, "y": {"field": "y", "type": "quantitative"}}}
  ]},
  {"width": 286.5, "height": 127, "layer": [
   {"data": {"values": [{}]}, "mark": {"type": "rule", "color": "black", "strokeWidth": 1.8, "strokeDash": [9, 5]}, "encoding": {"x": {"datum": 0, "type": "quantitative"}}},
   {"data": {"values": [{}]}, "mark": {"type": "rule", "color": "black", "strokeWidth": 1.8, "strokeDash": [9, 5]}, "encoding": {"y": {"datum": 0, "type": "quantitative"}}},
   {"data": {"name": "b12"}, "mark": {"type": "circle", "color": "black", "size": 150, "opacity": 1, "clip": true}, "encoding": {
     "x": {"field": "x", "type": "quantitative", "scale": {"domain": [-3.79, 3.79], "nice": false, "zero": false}, "axis": {"orient": "bottom", "values": [-3, -2, -1, 0, 1, 2, 3], "grid": true, "labels": false, "ticks": false, "domain": false, "title": null}},
     "y": {"field": "y", "type": "quantitative", "scale": {"domain": [-0.533, 0.54], "nice": false, "zero": false}, "axis": {"orient": "left", "values": [-0.4, -0.2, 0, 0.2, 0.4], "grid": true, "labels": false, "ticks": false, "domain": false, "title": null}}}},
   {"data": {"name": "o12"}, "mark": {"type": "circle", "color": "#FF8C00", "size": 150, "opacity": 1, "clip": true}, "encoding": {"x": {"field": "x", "type": "quantitative"}, "y": {"field": "y", "type": "quantitative"}}}
  ]},
  {"width": 286.5, "height": 127, "layer": [
   {"data": {"values": [{}]}, "mark": {"type": "rule", "color": "black", "strokeWidth": 1.8, "strokeDash": [9, 5]}, "encoding": {"x": {"datum": 0, "type": "quantitative"}}},
   {"data": {"values": [{}]}, "mark": {"type": "rule", "color": "black", "strokeWidth": 1.8, "strokeDash": [9, 5]}, "encoding": {"y": {"datum": 0, "type": "quantitative"}}},
   {"data": {"name": "b13"}, "mark": {"type": "circle", "color": "black", "size": 150, "opacity": 1, "clip": true}, "encoding": {
     "x": {"field": "x", "type": "quantitative", "scale": {"domain": [-3.79, 3.79], "nice": false, "zero": false}, "axis": {"orient": "top", "values": [-3, -2, -1, 0, 1, 2, 3], "grid": true, "ticks": true, "tickSize": 13, "labelPadding": 16, "labelBaseline": "alphabetic", "labelAlign": "center", "labelOverlap": false, "domain": false, "title": null, "labelExpr": "datum.value < 0 ? '-' + abs(datum.value) : '' + datum.value"}},
     "y": {"field": "y", "type": "quantitative", "scale": {"domain": [-0.533, 0.54], "nice": false, "zero": false}, "axis": {"orient": "left", "values": [-0.4, -0.2, 0, 0.2, 0.4], "grid": true, "labels": false, "ticks": false, "domain": false, "title": null}}}},
   {"data": {"name": "o13"}, "mark": {"type": "circle", "color": "#FF8C00", "size": 150, "opacity": 1, "clip": true}, "encoding": {"x": {"field": "x", "type": "quantitative"}, "y": {"field": "y", "type": "quantitative"}}}
  ]},
  {"width": 286.5, "height": 127, "layer": [
   {"data": {"values": [{}]}, "mark": {"type": "rule", "color": "#D3D3D3", "strokeWidth": 1.8}, "encoding": {"y": {"datum": 0.4, "type": "quantitative"}}},
   {"data": {"values": [{}]}, "mark": {"type": "rule", "color": "#D3D3D3", "strokeWidth": 1.8}, "encoding": {"y": {"datum": -0.2, "type": "quantitative"}}},
   {"data": {"values": [{}]}, "mark": {"type": "rule", "color": "black", "strokeWidth": 1.8, "strokeDash": [9, 5]}, "encoding": {"x": {"datum": 0, "type": "quantitative"}}},
   {"data": {"values": [{}]}, "mark": {"type": "rule", "color": "black", "strokeWidth": 1.8, "strokeDash": [9, 5]}, "encoding": {"y": {"datum": 0, "type": "quantitative"}}},
   {"data": {"name": "b14"}, "mark": {"type": "circle", "color": "black", "size": 150, "opacity": 1, "clip": true}, "encoding": {
     "x": {"field": "x", "type": "quantitative", "scale": {"domain": [-3.79, 3.79], "nice": false, "zero": false}, "axis": {"orient": "bottom", "values": [-3, -2, -1, 0, 1, 2, 3], "grid": true, "labels": false, "ticks": false, "domain": false, "title": null}},
     "y": {"field": "y", "type": "quantitative", "scale": {"domain": [-0.533, 0.54], "nice": false, "zero": false}, "axis": {"orient": "right", "values": [-0.4, 0.2], "grid": true, "ticks": true, "tickSize": 14, "labelAngle": 270, "labelAlign": "center", "labelBaseline": "alphabetic", "labelPadding": 27, "labelOverlap": false, "domain": false, "title": null, "labelExpr": "datum.value < 0 ? '-0.4' : '0.2'"}}}},
   {"data": {"name": "o14"}, "mark": {"type": "circle", "color": "#FF8C00", "size": 150, "opacity": 1, "clip": true}, "encoding": {"x": {"field": "x", "type": "quantitative"}, "y": {"field": "y", "type": "quantitative"}}}
  ]},
  {"width": 286.5, "height": 127, "layer": [
   {"data": {"values": [{}]}, "mark": {"type": "rule", "color": "#D3D3D3", "strokeWidth": 1.8}, "encoding": {"y": {"datum": 0.4, "type": "quantitative"}}},
   {"data": {"values": [{}]}, "mark": {"type": "rule", "color": "#D3D3D3", "strokeWidth": 1.8}, "encoding": {"y": {"datum": -0.2, "type": "quantitative"}}},
   {"data": {"values": [{}]}, "mark": {"type": "rule", "color": "black", "strokeWidth": 1.8, "strokeDash": [9, 5]}, "encoding": {"x": {"datum": 0, "type": "quantitative"}}},
   {"data": {"values": [{}]}, "mark": {"type": "rule", "color": "black", "strokeWidth": 1.8, "strokeDash": [9, 5]}, "encoding": {"y": {"datum": 0, "type": "quantitative"}}},
   {"data": {"name": "b21"}, "mark": {"type": "circle", "color": "black", "size": 150, "opacity": 1, "clip": true}, "encoding": {
     "x": {"field": "x", "type": "quantitative", "scale": {"domain": [-3.79, 3.79], "nice": false, "zero": false}, "axis": {"orient": "bottom", "values": [-3, -2, -1, 0, 1, 2, 3], "grid": true, "labels": false, "ticks": false, "domain": false, "title": null}},
     "y": {"field": "y", "type": "quantitative", "scale": {"domain": [-0.533, 0.54], "nice": false, "zero": false}, "axis": {"orient": "left", "values": [-0.4, 0.2], "grid": true, "ticks": true, "tickSize": 14, "labelAngle": 270, "labelAlign": "center", "labelBaseline": "alphabetic", "labelPadding": 16, "labelOverlap": false, "domain": false, "title": null, "labelExpr": "datum.value < 0 ? '-0.4' : '0.2'"}}}},
   {"data": {"name": "o21"}, "mark": {"type": "circle", "color": "#FF8C00", "size": 150, "opacity": 1, "clip": true}, "encoding": {"x": {"field": "x", "type": "quantitative"}, "y": {"field": "y", "type": "quantitative"}}}
  ]},
  {"width": 286.5, "height": 127, "layer": [
   {"data": {"values": [{}]}, "mark": {"type": "rule", "color": "black", "strokeWidth": 1.8, "strokeDash": [9, 5]}, "encoding": {"x": {"datum": 0, "type": "quantitative"}}},
   {"data": {"values": [{}]}, "mark": {"type": "rule", "color": "black", "strokeWidth": 1.8, "strokeDash": [9, 5]}, "encoding": {"y": {"datum": 0, "type": "quantitative"}}},
   {"data": {"name": "b22"}, "mark": {"type": "circle", "color": "black", "size": 150, "opacity": 1, "clip": true}, "encoding": {
     "x": {"field": "x", "type": "quantitative", "scale": {"domain": [-3.79, 3.79], "nice": false, "zero": false}, "axis": {"orient": "bottom", "values": [-3, -2, -1, 0, 1, 2, 3], "grid": true, "labels": false, "ticks": false, "domain": false, "title": null}},
     "y": {"field": "y", "type": "quantitative", "scale": {"domain": [-0.533, 0.54], "nice": false, "zero": false}, "axis": {"orient": "left", "values": [-0.4, -0.2, 0, 0.2, 0.4], "grid": true, "labels": false, "ticks": false, "domain": false, "title": null}}}},
   {"data": {"name": "o22"}, "mark": {"type": "circle", "color": "#FF8C00", "size": 150, "opacity": 1, "clip": true}, "encoding": {"x": {"field": "x", "type": "quantitative"}, "y": {"field": "y", "type": "quantitative"}}}
  ]},
  {"width": 286.5, "height": 127, "layer": [
   {"data": {"values": [{}]}, "mark": {"type": "rule", "color": "black", "strokeWidth": 1.8, "strokeDash": [9, 5]}, "encoding": {"x": {"datum": 0, "type": "quantitative"}}},
   {"data": {"values": [{}]}, "mark": {"type": "rule", "color": "black", "strokeWidth": 1.8, "strokeDash": [9, 5]}, "encoding": {"y": {"datum": 0, "type": "quantitative"}}},
   {"data": {"name": "b23"}, "mark": {"type": "circle", "color": "black", "size": 150, "opacity": 1, "clip": true}, "encoding": {
     "x": {"field": "x", "type": "quantitative", "scale": {"domain": [-3.79, 3.79], "nice": false, "zero": false}, "axis": {"orient": "bottom", "values": [-3, -2, -1, 0, 1, 2, 3], "grid": true, "labels": false, "ticks": false, "domain": false, "title": null}},
     "y": {"field": "y", "type": "quantitative", "scale": {"domain": [-0.533, 0.54], "nice": false, "zero": false}, "axis": {"orient": "left", "values": [-0.4, -0.2, 0, 0.2, 0.4], "grid": true, "labels": false, "ticks": false, "domain": false, "title": null}}}},
   {"data": {"name": "o23"}, "mark": {"type": "circle", "color": "#FF8C00", "size": 150, "opacity": 1, "clip": true}, "encoding": {"x": {"field": "x", "type": "quantitative"}, "y": {"field": "y", "type": "quantitative"}}}
  ]},
  {"width": 286.5, "height": 127, "layer": [
   {"data": {"values": [{}]}, "mark": {"type": "rule", "color": "black", "strokeWidth": 1.8, "strokeDash": [9, 5]}, "encoding": {"x": {"datum": 0, "type": "quantitative"}}},
   {"data": {"values": [{}]}, "mark": {"type": "rule", "color": "black", "strokeWidth": 1.8, "strokeDash": [9, 5]}, "encoding": {"y": {"datum": 0, "type": "quantitative"}}},
   {"data": {"name": "b24"}, "mark": {"type": "circle", "color": "black", "size": 150, "opacity": 1, "clip": true}, "encoding": {
     "x": {"field": "x", "type": "quantitative", "scale": {"domain": [-3.79, 3.79], "nice": false, "zero": false}, "axis": {"orient": "bottom", "values": [-3, -2, -1, 0, 1, 2, 3], "grid": true, "labels": false, "ticks": false, "domain": false, "title": null}},
     "y": {"field": "y", "type": "quantitative", "scale": {"domain": [-0.533, 0.54], "nice": false, "zero": false}, "axis": {"orient": "left", "values": [-0.4, -0.2, 0, 0.2, 0.4], "grid": true, "labels": false, "ticks": false, "domain": false, "title": null}}}},
   {"data": {"name": "o24"}, "mark": {"type": "circle", "color": "#FF8C00", "size": 150, "opacity": 1, "clip": true}, "encoding": {"x": {"field": "x", "type": "quantitative"}, "y": {"field": "y", "type": "quantitative"}}}
  ]},
  {"width": 286.5, "height": 127, "layer": [
   {"data": {"values": [{}]}, "mark": {"type": "rule", "color": "black", "strokeWidth": 1.8, "strokeDash": [9, 5]}, "encoding": {"x": {"datum": 0, "type": "quantitative"}}},
   {"data": {"values": [{}]}, "mark": {"type": "rule", "color": "black", "strokeWidth": 1.8, "strokeDash": [9, 5]}, "encoding": {"y": {"datum": 0, "type": "quantitative"}}},
   {"data": {"name": "b31"}, "mark": {"type": "circle", "color": "black", "size": 150, "opacity": 1, "clip": true}, "encoding": {
     "x": {"field": "x", "type": "quantitative", "scale": {"domain": [-3.79, 3.79], "nice": false, "zero": false}, "axis": {"orient": "bottom", "values": [-3, -2, -1, 0, 1, 2, 3], "grid": true, "labels": false, "ticks": false, "domain": false, "title": null}},
     "y": {"field": "y", "type": "quantitative", "scale": {"domain": [-0.533, 0.54], "nice": false, "zero": false}, "axis": {"orient": "left", "values": [-0.4, -0.2, 0, 0.2, 0.4], "grid": true, "labels": false, "ticks": false, "domain": false, "title": null}}}},
   {"data": {"name": "o31"}, "mark": {"type": "circle", "color": "#FF8C00", "size": 150, "opacity": 1, "clip": true}, "encoding": {"x": {"field": "x", "type": "quantitative"}, "y": {"field": "y", "type": "quantitative"}}}
  ]},
  {"width": 286.5, "height": 127, "layer": [
   {"data": {"values": [{}]}, "mark": {"type": "rule", "color": "black", "strokeWidth": 1.8, "strokeDash": [9, 5]}, "encoding": {"x": {"datum": 0, "type": "quantitative"}}},
   {"data": {"values": [{}]}, "mark": {"type": "rule", "color": "black", "strokeWidth": 1.8, "strokeDash": [9, 5]}, "encoding": {"y": {"datum": 0, "type": "quantitative"}}},
   {"data": {"name": "b32"}, "mark": {"type": "circle", "color": "black", "size": 150, "opacity": 1, "clip": true}, "encoding": {
     "x": {"field": "x", "type": "quantitative", "scale": {"domain": [-3.79, 3.79], "nice": false, "zero": false}, "axis": {"orient": "bottom", "values": [-3, -2, -1, 0, 1, 2, 3], "grid": true, "labels": false, "ticks": false, "domain": false, "title": null}},
     "y": {"field": "y", "type": "quantitative", "scale": {"domain": [-0.533, 0.54], "nice": false, "zero": false}, "axis": {"orient": "left", "values": [-0.4, -0.2, 0, 0.2, 0.4], "grid": true, "labels": false, "ticks": false, "domain": false, "title": null}}}},
   {"data": {"name": "o32"}, "mark": {"type": "circle", "color": "#FF8C00", "size": 150, "opacity": 1, "clip": true}, "encoding": {"x": {"field": "x", "type": "quantitative"}, "y": {"field": "y", "type": "quantitative"}}}
  ]},
  {"width": 286.5, "height": 127, "layer": [
   {"data": {"values": [{}]}, "mark": {"type": "rule", "color": "black", "strokeWidth": 1.8, "strokeDash": [9, 5]}, "encoding": {"x": {"datum": 0, "type": "quantitative"}}},
   {"data": {"values": [{}]}, "mark": {"type": "rule", "color": "black", "strokeWidth": 1.8, "strokeDash": [9, 5]}, "encoding": {"y": {"datum": 0, "type": "quantitative"}}},
   {"data": {"name": "b33"}, "mark": {"type": "circle", "color": "black", "size": 150, "opacity": 1, "clip": true}, "encoding": {
     "x": {"field": "x", "type": "quantitative", "scale": {"domain": [-3.79, 3.79], "nice": false, "zero": false}, "axis": {"orient": "bottom", "values": [-3, -2, -1, 0, 1, 2, 3], "grid": true, "labels": false, "ticks": false, "domain": false, "title": null}},
     "y": {"field": "y", "type": "quantitative", "scale": {"domain": [-0.533, 0.54], "nice": false, "zero": false}, "axis": {"orient": "left", "values": [-0.4, -0.2, 0, 0.2, 0.4], "grid": true, "labels": false, "ticks": false, "domain": false, "title": null}}}},
   {"data": {"name": "o33"}, "mark": {"type": "circle", "color": "#FF8C00", "size": 150, "opacity": 1, "clip": true}, "encoding": {"x": {"field": "x", "type": "quantitative"}, "y": {"field": "y", "type": "quantitative"}}}
  ]},
  {"width": 286.5, "height": 127, "layer": [
   {"data": {"values": [{}]}, "mark": {"type": "rule", "color": "#D3D3D3", "strokeWidth": 1.8}, "encoding": {"y": {"datum": 0.4, "type": "quantitative"}}},
   {"data": {"values": [{}]}, "mark": {"type": "rule", "color": "#D3D3D3", "strokeWidth": 1.8}, "encoding": {"y": {"datum": -0.2, "type": "quantitative"}}},
   {"data": {"values": [{}]}, "mark": {"type": "rule", "color": "black", "strokeWidth": 1.8, "strokeDash": [9, 5]}, "encoding": {"x": {"datum": 0, "type": "quantitative"}}},
   {"data": {"values": [{}]}, "mark": {"type": "rule", "color": "black", "strokeWidth": 1.8, "strokeDash": [9, 5]}, "encoding": {"y": {"datum": 0, "type": "quantitative"}}},
   {"data": {"name": "b34"}, "mark": {"type": "circle", "color": "black", "size": 150, "opacity": 1, "clip": true}, "encoding": {
     "x": {"field": "x", "type": "quantitative", "scale": {"domain": [-3.79, 3.79], "nice": false, "zero": false}, "axis": {"orient": "bottom", "values": [-3, -2, -1, 0, 1, 2, 3], "grid": true, "labels": false, "ticks": false, "domain": false, "title": null}},
     "y": {"field": "y", "type": "quantitative", "scale": {"domain": [-0.533, 0.54], "nice": false, "zero": false}, "axis": {"orient": "right", "values": [-0.4, 0.2], "grid": true, "ticks": true, "tickSize": 14, "labelAngle": 270, "labelAlign": "center", "labelBaseline": "alphabetic", "labelPadding": 27, "labelOverlap": false, "domain": false, "title": null, "labelExpr": "datum.value < 0 ? '-0.4' : '0.2'"}}}},
   {"data": {"name": "o34"}, "mark": {"type": "circle", "color": "#FF8C00", "size": 150, "opacity": 1, "clip": true}, "encoding": {"x": {"field": "x", "type": "quantitative"}, "y": {"field": "y", "type": "quantitative"}}}
  ]},
  {"width": 286.5, "height": 127, "layer": [
   {"data": {"values": [{}]}, "mark": {"type": "rule", "color": "#D3D3D3", "strokeWidth": 1.8}, "encoding": {"y": {"datum": 0.4, "type": "quantitative"}}},
   {"data": {"values": [{}]}, "mark": {"type": "rule", "color": "#D3D3D3", "strokeWidth": 1.8}, "encoding": {"y": {"datum": -0.2, "type": "quantitative"}}},
   {"data": {"values": [{}]}, "mark": {"type": "rule", "color": "black", "strokeWidth": 1.8, "strokeDash": [9, 5]}, "encoding": {"x": {"datum": 0, "type": "quantitative"}}},
   {"data": {"values": [{}]}, "mark": {"type": "rule", "color": "black", "strokeWidth": 1.8, "strokeDash": [9, 5]}, "encoding": {"y": {"datum": 0, "type": "quantitative"}}},
   {"data": {"name": "b41"}, "mark": {"type": "circle", "color": "black", "size": 150, "opacity": 1, "clip": true}, "encoding": {
     "x": {"field": "x", "type": "quantitative", "scale": {"domain": [-3.79, 3.79], "nice": false, "zero": false}, "axis": {"orient": "bottom", "values": [-3, -2, -1, 0, 1, 2, 3], "grid": true, "labels": false, "ticks": false, "domain": false, "title": null}},
     "y": {"field": "y", "type": "quantitative", "scale": {"domain": [-0.533, 0.54], "nice": false, "zero": false}, "axis": {"orient": "left", "values": [-0.4, 0.2], "grid": true, "ticks": true, "tickSize": 14, "labelAngle": 270, "labelAlign": "center", "labelBaseline": "alphabetic", "labelPadding": 16, "labelOverlap": false, "domain": false, "title": null, "labelExpr": "datum.value < 0 ? '-0.4' : '0.2'"}}}},
   {"data": {"name": "o41"}, "mark": {"type": "circle", "color": "#FF8C00", "size": 150, "opacity": 1, "clip": true}, "encoding": {"x": {"field": "x", "type": "quantitative"}, "y": {"field": "y", "type": "quantitative"}}}
  ]},
  {"width": 286.5, "height": 127, "layer": [
   {"data": {"values": [{}]}, "mark": {"type": "rule", "color": "black", "strokeWidth": 1.8, "strokeDash": [9, 5]}, "encoding": {"x": {"datum": 0, "type": "quantitative"}}},
   {"data": {"values": [{}]}, "mark": {"type": "rule", "color": "black", "strokeWidth": 1.8, "strokeDash": [9, 5]}, "encoding": {"y": {"datum": 0, "type": "quantitative"}}},
   {"data": {"name": "b42"}, "mark": {"type": "circle", "color": "black", "size": 150, "opacity": 1, "clip": true}, "encoding": {
     "x": {"field": "x", "type": "quantitative", "scale": {"domain": [-3.79, 3.79], "nice": false, "zero": false}, "axis": {"orient": "bottom", "values": [-3, -2, -1, 0, 1, 2, 3], "grid": true, "ticks": true, "tickSize": 14, "labelPadding": 34, "labelBaseline": "alphabetic", "labelAlign": "center", "labelOverlap": false, "domain": false, "title": null, "labelExpr": "datum.value < 0 ? '-' + abs(datum.value) : '' + datum.value"}},
     "y": {"field": "y", "type": "quantitative", "scale": {"domain": [-0.533, 0.54], "nice": false, "zero": false}, "axis": {"orient": "left", "values": [-0.4, -0.2, 0, 0.2, 0.4], "grid": true, "labels": false, "ticks": false, "domain": false, "title": null}}}},
   {"data": {"name": "o42"}, "mark": {"type": "circle", "color": "#FF8C00", "size": 150, "opacity": 1, "clip": true}, "encoding": {"x": {"field": "x", "type": "quantitative"}, "y": {"field": "y", "type": "quantitative"}}}
  ]},
  {"width": 286.5, "height": 127, "layer": [
   {"data": {"values": [{}]}, "mark": {"type": "rule", "color": "black", "strokeWidth": 1.8, "strokeDash": [9, 5]}, "encoding": {"x": {"datum": 0, "type": "quantitative"}}},
   {"data": {"values": [{}]}, "mark": {"type": "rule", "color": "black", "strokeWidth": 1.8, "strokeDash": [9, 5]}, "encoding": {"y": {"datum": 0, "type": "quantitative"}}},
   {"data": {"name": "b43"}, "mark": {"type": "circle", "color": "black", "size": 150, "opacity": 1, "clip": true}, "encoding": {
     "x": {"field": "x", "type": "quantitative", "scale": {"domain": [-3.79, 3.79], "nice": false, "zero": false}, "axis": {"orient": "bottom", "values": [-3, -2, -1, 0, 1, 2, 3], "grid": true, "labels": false, "ticks": false, "domain": false, "title": null}},
     "y": {"field": "y", "type": "quantitative", "scale": {"domain": [-0.533, 0.54], "nice": false, "zero": false}, "axis": {"orient": "left", "values": [-0.4, -0.2, 0, 0.2, 0.4], "grid": true, "labels": false, "ticks": false, "domain": false, "title": null}}}},
   {"data": {"name": "o43"}, "mark": {"type": "circle", "color": "#FF8C00", "size": 150, "opacity": 1, "clip": true}, "encoding": {"x": {"field": "x", "type": "quantitative"}, "y": {"field": "y", "type": "quantitative"}}}
  ]},
  {"width": 286.5, "height": 127, "layer": [
   {"data": {"values": [{}]}, "mark": {"type": "rule", "color": "black", "strokeWidth": 1.8, "strokeDash": [9, 5]}, "encoding": {"x": {"datum": 0, "type": "quantitative"}}},
   {"data": {"values": [{}]}, "mark": {"type": "rule", "color": "black", "strokeWidth": 1.8, "strokeDash": [9, 5]}, "encoding": {"y": {"datum": 0, "type": "quantitative"}}},
   {"data": {"name": "b44"}, "mark": {"type": "circle", "color": "black", "size": 150, "opacity": 1, "clip": true}, "encoding": {
     "x": {"field": "x", "type": "quantitative", "scale": {"domain": [-3.79, 3.79], "nice": false, "zero": false}, "axis": {"orient": "bottom", "values": [-3, -2, -1, 0, 1, 2, 3], "grid": true, "ticks": true, "tickSize": 14, "labelPadding": 34, "labelBaseline": "alphabetic", "labelAlign": "center", "labelOverlap": false, "domain": false, "title": null, "labelExpr": "datum.value < 0 ? '-' + abs(datum.value) : '' + datum.value"}},
     "y": {"field": "y", "type": "quantitative", "scale": {"domain": [-0.533, 0.54], "nice": false, "zero": false}, "axis": {"orient": "left", "values": [-0.4, -0.2, 0, 0.2, 0.4], "grid": true, "labels": false, "ticks": false, "domain": false, "title": null}}}},
   {"data": {"name": "o44"}, "mark": {"type": "circle", "color": "#FF8C00", "size": 150, "opacity": 1, "clip": true}, "encoding": {"x": {"field": "x", "type": "quantitative"}, "y": {"field": "y", "type": "quantitative"}}}
  ]}
]
}]
}],
"config": {
 "view": {"stroke": "black", "strokeWidth": 2},
 "font": "Liberation Sans",
 "axis": {"gridColor": "#D3D3D3", "gridWidth": 1.8, "gridOpacity": 1, "tickColor": "black", "tickWidth": 2, "labelColor": "black", "labelFontSize": 21, "labelFont": "Liberation Sans", "labelOverlap": false, "labelFlush": false}
}
}
